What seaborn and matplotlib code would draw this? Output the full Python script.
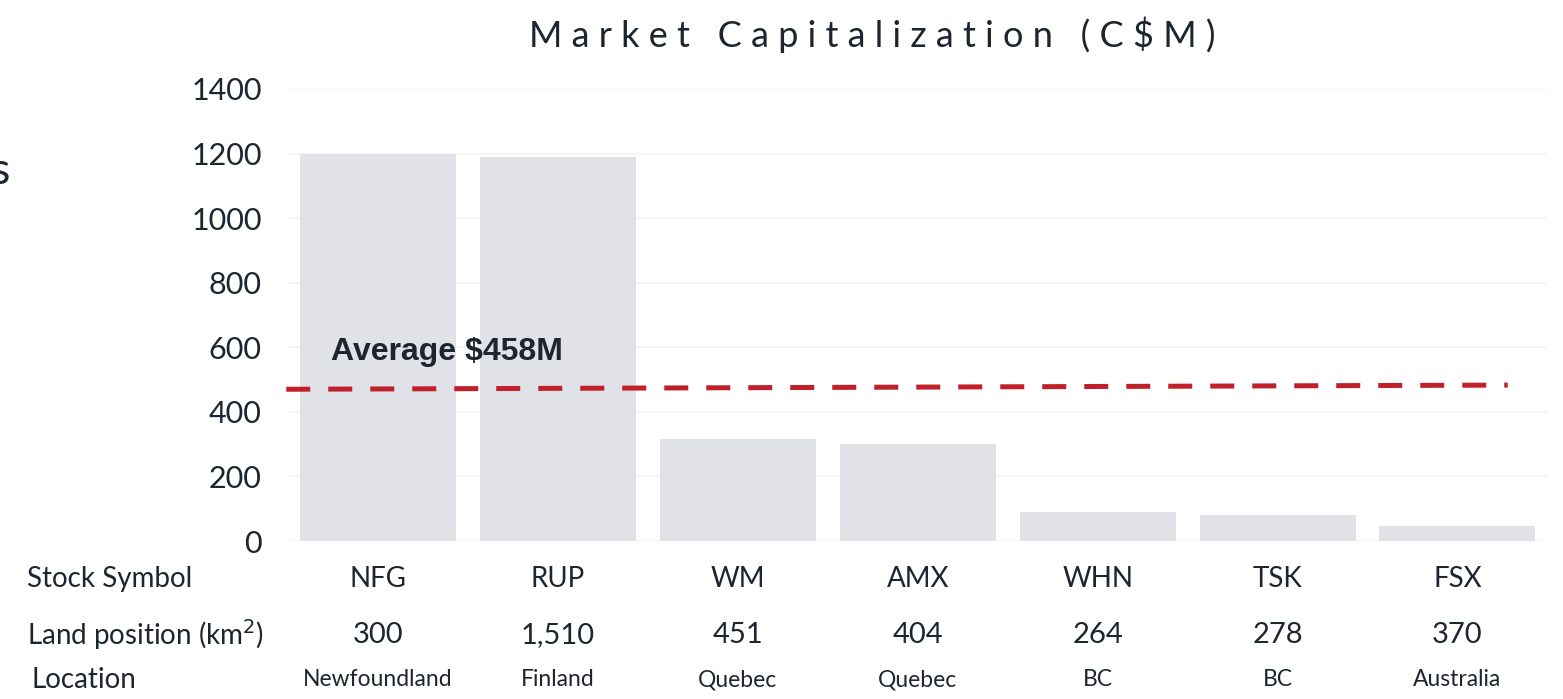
import matplotlib
matplotlib.use("Agg")
import matplotlib.pyplot as plt
import matplotlib.transforms as mtransforms
import seaborn as sns
import pandas as pd

# ---- data ----
symbols = ["NFG", "RUP", "WM", "AMX", "WHN", "TSK", "FSX"]
market_cap = [1200, 1190, 317, 300, 90, 82, 45]
land_km2 = [300, 1510, 451, 404, 264, 278, 370]
locations = ["Newfoundland", "Finland", "Quebec", "Quebec", "BC", "BC", "Australia"]
avg_label = "Average $458M"
avg_line_y = [470, 483]          # dashed average line, left and right end values
y_ticks = [0, 200, 400, 600, 800, 1000, 1200, 1400]
title = "Market Capitalization (C$M)"
row_labels = ["Stock Symbol", "Land position (km$^2$)", "Location"]

sns.set_style("white")
plt.rcParams["font.family"] = ["Lato", "DejaVu Sans"]

TXT = "#1c2530"
BAR = "#e1e2e7"
RED = "#c0202a"

fig = plt.figure(figsize=(15.63, 6.99), dpi=100)
ax = fig.add_axes([0.1843, 0.2260, 0.8057, 0.6467])

df = pd.DataFrame({"symbol": symbols, "cap": market_cap})
sns.barplot(data=df, x="symbol", y="cap", color=BAR, saturation=1,
            width=0.867, ax=ax, edgecolor="none")

ax.set_xlim(-0.5, 6.5)
ax.set_ylim(0, 1400)
ax.set_yticks(y_ticks)
ax.set_yticklabels([str(v) for v in y_ticks], fontsize=22, color=TXT)
ax.tick_params(axis="y", length=0, pad=19)
ax.set_xticks([])
ax.set_xlabel("")
ax.set_ylabel("")
ax.yaxis.grid(True, color="#f3f3f5", linewidth=1.2)
ax.set_axisbelow(True)
for s in ax.spines.values():
    s.set_visible(False)

# average line
ax.plot([-0.51, 6.28], avg_line_y, color=RED, linewidth=3.6,
        dashes=(4.8, 3.6), solid_capstyle="butt", dash_capstyle="butt",
        clip_on=False, zorder=5)
ax.text(-0.26, 538, avg_label, fontsize=23, fontweight="bold",
        family=["Liberation Sans", "DejaVu Sans"], color=TXT,
        ha="left", va="bottom", zorder=6)

# title with letter spacing
spaced = "   ".join(" ".join(w) for w in title.split(" "))
fig.text(0.558, 0.950, spaced, fontsize=26, color=TXT, ha="center", va="center")

# table rows below the axis: x in data coords, y in figure coords
blend = mtransforms.blended_transform_factory(ax.transData, fig.transFigure)
fig_y = [1 - 579 / 699, 1 - 635 / 699, 1 - 680 / 699]
for i, sym in enumerate(symbols):
    ax.text(i, fig_y[0], sym, transform=blend, fontsize=20, color=TXT,
            ha="center", va="center", clip_on=False)
    ax.text(i, fig_y[1], f"{land_km2[i]:,}", transform=blend, fontsize=21,
            color=TXT, ha="center", va="center", clip_on=False)
    ax.text(i, fig_y[2], locations[i], transform=blend, fontsize=16.5,
            color=TXT, ha="center", va="center", clip_on=False)

fig.text(27 / 1563, fig_y[0], row_labels[0], fontsize=20, color=TXT,
         ha="left", va="center")
fig.text(27 / 1563, fig_y[1], row_labels[1], fontsize=20, color=TXT,
         ha="left", va="center")
fig.text(32 / 1563, fig_y[2], row_labels[2], fontsize=20, color=TXT,
         ha="left", va="center")

# cut-off text fragment at the left edge (as in the reference)
fig.text(-0.006, 1 - 172 / 699, "s", fontsize=32, color=TXT,
         ha="left", va="center")

fig.savefig("out.png", dpi=100)
